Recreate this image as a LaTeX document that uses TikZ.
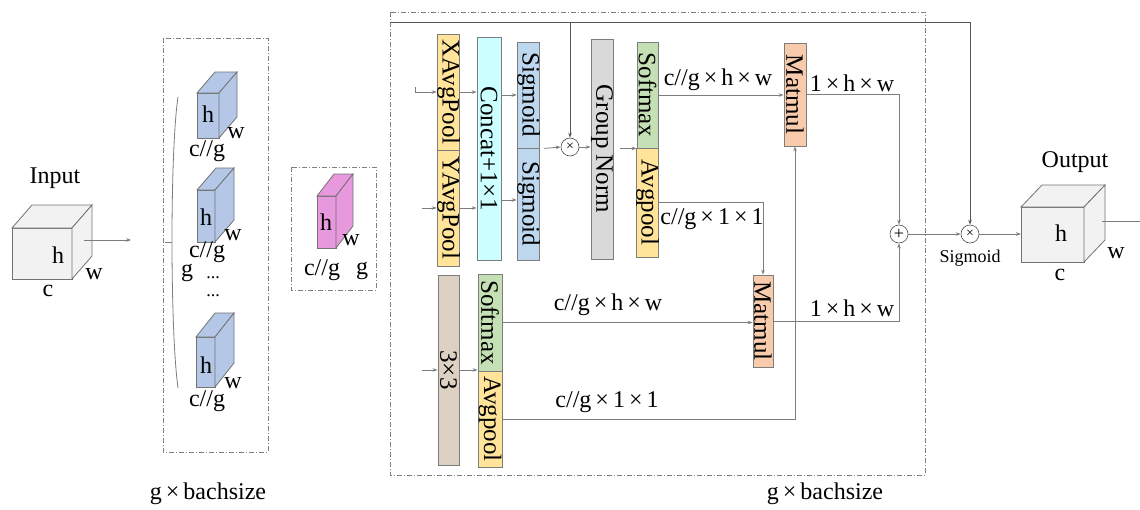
\documentclass[tikz,border=0pt]{standalone}
\usepackage{fontspec}
\setmainfont{Liberation Serif}
\usepackage{graphicx}
\usetikzlibrary{arrows.meta}
\definecolor{cubegray}{RGB}{242,242,242}
\definecolor{cubeblue}{RGB}{180,199,231}
\definecolor{cubepink}{RGB}{232,152,220}
\definecolor{cyellow}{RGB}{255,228,153}
\definecolor{ccyan}{RGB}{204,255,255}
\definecolor{cblue}{RGB}{189,215,238}
\definecolor{cgray}{RGB}{217,217,217}
\definecolor{cgreen}{RGB}{197,224,180}
\definecolor{csalmon}{RGB}{248,203,173}
\definecolor{cbrown}{RGB}{221,209,195}
\definecolor{lgray}{RGB}{125,125,125}
\definecolor{dgray}{RGB}{85,85,85}
\newcommand\mycube[7]{%
  \filldraw[cubeline, fill=#7] (#1,#2) rectangle (#3,#4);
  \filldraw[cubeline, fill=#7] (#1,#2) -- (#1+#5,#2-#6) -- (#3+#5,#2-#6) -- (#3,#2) -- cycle;
  \filldraw[cubeline, fill=#7] (#3,#2) -- (#3+#5,#2-#6) -- (#3+#5,#4-#6) -- (#3,#4) -- cycle;}
\tikzset{
  txt/.style={font=\fontsize{24}{28}\selectfont, inner sep=0pt},
  small/.style={font=\fontsize{18}{20}\selectfont, inner sep=0pt},
  col/.style={draw=lgray, line width=0.8pt, inner sep=0pt, font=\fontsize{25}{28}\selectfont},
  conn/.style={draw=lgray, line width=0.8pt},
  arr/.style={conn, -{Stealth[length=5pt,width=3.5pt]}},
  dashbox/.style={draw=gray, line width=0.8pt, dash pattern=on 5pt off 2pt on 1pt off 2pt},
  opnode/.style={circle, draw=black!70, fill=white, line width=0.6pt, minimum size=18pt, inner sep=0pt, font=\fontsize{14}{14}\selectfont},
  cubeline/.style={draw=black!55, line width=0.8pt}
}
\begin{document}
\begin{tikzpicture}[x=1pt,y=-1pt]
\useasboundingbox (0,0) rectangle (1140,509);
\fill[white] (0,0) rectangle (1140,509);

% dashed frames
\draw[dashbox] (163,38) rectangle (268,452);
\draw[dashbox] (291,167) rectangle (376,290);
\draw[dashbox] (390,12) rectangle (925,475);

% input cube
\mycube{12}{228}{72}{279}{20}{23}{cubegray}
\node[txt] (inlbl) at (55,178) {Input};
\node[txt] (inh) at (58,255) {h};
\node[txt] (inw) at (94,274) {w};
\node[txt] (inc) at (48,291) {c};
\coordinate (inS) at (84,240);
\coordinate (inE) at (131,240);
\draw[arr] (inS) -- (inE);

% group of blue cubes
\draw[conn] (178,97) .. controls (170,150) and (170,330) .. (178,388);
\coordinate (brT) at (172,242);
\coordinate (brL) at (165,242);
\draw[conn] (brL) -- (brT);
\mycube{197}{93}{219}{138}{18}{21}{cubeblue}
\node[txt] (h1) at (208,114) {h};
\node[txt] (w1) at (236,133) {w};
\node[txt] (c1) at (207,151) {c//g};
\mycube{197}{190}{215}{242}{19}{22}{cubeblue}
\node[txt] (h2) at (206,217) {h};
\node[txt] (w2) at (233,235) {w};
\node[txt] (c2) at (207,252) {c//g};
\node[txt] (g2) at (187,273) {g};
\node[small] (d1) at (213,278) {...};
\node[small] (d2) at (213,296) {...};
\mycube{196}{337}{215}{387}{19}{24}{cubeblue}
\node[txt] (h3) at (206,365) {h};
\node[txt] (w3) at (233,383) {w};
\node[txt] (c3) at (207,401) {c//g};
\node[txt] (bs1) at (208,494) {g\,×\,bachsize};

% pink cube
\mycube{317}{196}{336}{248}{17}{22}{cubepink}
\node[txt] (hp) at (326,222) {h};
\node[txt] (wp) at (351,240) {w};
\node[txt] (cp) at (322,270) {c//g};
\node[txt] (gp) at (362,271) {g};

% columns
\node[col, fill=cyellow, minimum width=21pt, minimum height=116pt] (xap) at (448.5,92) {\rotatebox{-90}{XAvgPool}};
\node[col, fill=cyellow, minimum width=21pt, minimum height=116pt] (yap) at (448.5,208) {\rotatebox{-90}{YAvgPool}};
\node[col, fill=ccyan, minimum width=24pt, minimum height=223pt] (cat) at (489,148.5) {\rotatebox{-90}{Concat+1×1}};
\node[col, fill=cblue, minimum width=21pt, minimum height=106pt] (sg1) at (528.5,95) {\rotatebox{-90}{Sigmoid}};
\node[col, fill=cblue, minimum width=21pt, minimum height=112pt] (sg2) at (528.5,204) {\rotatebox{-90}{Sigmoid}};
\node[col, fill=cgray, minimum width=22pt, minimum height=220pt] (gn) at (602,149) {\rotatebox{-90}{Group Norm}};
\node[col, fill=cgreen, minimum width=21pt, minimum height=106pt] (sm1) at (647.5,95) {\rotatebox{-90}{Softmax}};
\node[col, fill=cyellow, minimum width=21pt, minimum height=109pt] (ap1) at (647.5,202.5) {\rotatebox{-90}{Avgpool}};
\node[col, fill=csalmon, minimum width=22pt, minimum height=103pt] (mm1) at (795,94.5) {\rotatebox{-90}{Matmul}};
\node[col, fill=cbrown, minimum width=21pt, minimum height=190pt] (c33) at (448.5,370) {\rotatebox{-90}{3×3}};
\node[col, fill=cgreen, minimum width=24pt, minimum height=97pt] (sm2) at (490,322.5) {\rotatebox{-90}{Softmax}};
\node[col, fill=cyellow, minimum width=24pt, minimum height=96pt] (ap2) at (490,419) {\rotatebox{-90}{Avgpool}};
\node[col, fill=csalmon, minimum width=20pt, minimum height=92pt] (mm2) at (763,321) {\rotatebox{-90}{Matmul}};

% operators
\node[opnode] (mul1) at (570,147) {×};
\node[opnode, font=\fontsize{18}{18}\selectfont] (add) at (899,234) {+};
\node[opnode] (mul2) at (970,234) {×};
\node[small] (sigl) at (970,258) {Sigmoid};

% output cube
\mycube{1021}{207}{1084}{262}{21}{22}{cubegray}
\node[txt] (outlbl) at (1075,162) {Output};
\node[txt] (outh) at (1061,233) {h};
\node[txt] (outw) at (1116,253) {w};
\node[txt] (outc) at (1060,275) {c};
\coordinate (outL) at (1021,234);
\coordinate (outS) at (1102,221);
\coordinate (outE) at (1140,221);
\draw[conn] (outS) -- (outE);

% connectors inside
\coordinate (inA) at (415,87);
\coordinate (inB) at (422,208);
\coordinate (inC) at (422,370);
\draw[arr] (inA) |- (xap.west);
\draw[arr] (inB) -- (yap.west);
\draw[arr] (xap.east) -- (xap.east -| cat.west);
\draw[arr] (yap.east) -- (yap.east -| cat.west);
\draw[arr] (sg1.west -| cat.east) -- (sg1.west);
\draw[arr] ([yshift=4pt]sg2.west -| cat.east) -- ([yshift=4pt]sg2.west);
\draw[arr] ([xshift=4pt]sg1.south east) -- (mul1.west);
\draw[arr] (mul1.east) -- (mul1.east -| gn.west);
\draw[arr] ([xshift=7pt]gn.east |- sm1.south west) -- (sm1.south west);
\draw[arr] (sm1.east) -- (sm1.east -| mm1.west);
\draw[arr] (ap1.east) -| (mm2.north);
\draw[arr] (mm1.east) -| (add.north);
\draw[arr] (sm2.east) -- (sm2.east -| mm2.west);
\draw[arr] (mm2.east) -| (add.south);
\draw[arr] (ap2.east) -| (mm1.south);
\draw[arr] (inC) -- (c33.west);
\draw[arr] (c33.east) -- (c33.east -| sm2.west);
\draw[arr] (add.east) -- (mul2.west);
\draw[arr] (mul2.east) -- (outL);
\coordinate (topL) at (390,22);
\draw[arr, draw=dgray] (topL) -| (mul2.north);
\draw[arr, draw=dgray] (topL -| mul1) -- (mul1.north);

% labels on connectors
\node[txt] (l1) at (718,80) {c//g\,×\,h\,×\,w};
\node[txt] (l2) at (712,219) {c//g\,×\,1\,×\,1};
\node[txt] (l3) at (852,83) {1\,×\,h\,×\,w};
\node[txt] (l4) at (608,305) {c//g\,×\,h\,×\,w};
\node[txt] (l5) at (852,308) {1\,×\,h\,×\,w};
\node[txt] (l6) at (607,402) {c//g\,×\,1\,×\,1};
\node[txt] (bs2) at (825,494) {g\,×\,bachsize};
\end{tikzpicture}
\end{document}
